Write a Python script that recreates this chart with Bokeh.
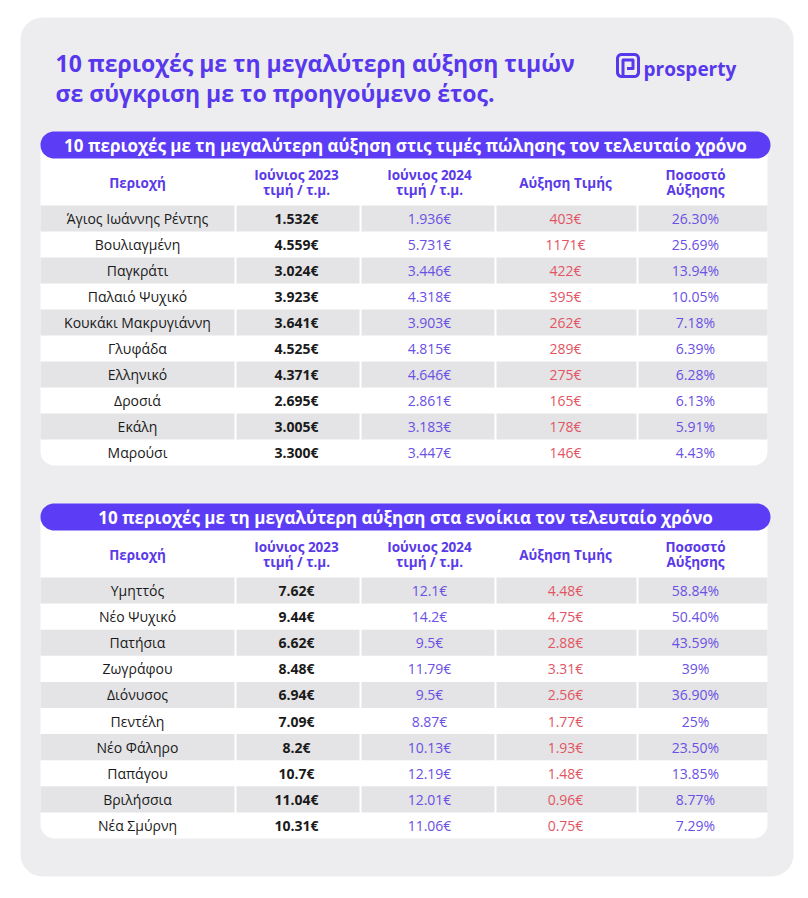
import numpy as np
from bokeh.plotting import figure
from bokeh.models import Range1d, ColumnDataSource
from bokeh.core.properties import value
from bokeh.embed import file_html
from bokeh.resources import INLINE

FONT = "Open Sans"

# ---------------- data ----------------
title_lines = ["10 περιοχές με τη μεγαλύτερη αύξηση τιμών",
               "σε σύγκριση με το προηγούμενο έτος."]
brand = "prosperty"

header_sales = "10 περιοχές με τη μεγαλύτερη αύξηση στις τιμές πώλησης τον τελευταίο χρόνο"
header_rent = "10 περιοχές με τη μεγαλύτερη αύξηση στα ενοίκια τον τελευταίο χρόνο"

col_headers = [["Περιοχή"], ["Ιούνιος 2023", "τιμή / τ.μ."], ["Ιούνιος 2024", "τιμή / τ.μ."],
               ["Αύξηση Τιμής"], ["Ποσοστό", "Αύξησης"]]

sales_areas = ["Άγιος Ιωάννης Ρέντης", "Βουλιαγμένη", "Παγκράτι", "Παλαιό Ψυχικό",
               "Κουκάκι Μακρυγιάννη", "Γλυφάδα", "Ελληνικό", "Δροσιά", "Εκάλη", "Μαρούσι"]
sales_2023 = ["1.532€", "4.559€", "3.024€", "3.923€", "3.641€", "4.525€", "4.371€", "2.695€", "3.005€", "3.300€"]
sales_2024 = ["1.936€", "5.731€", "3.446€", "4.318€", "3.903€", "4.815€", "4.646€", "2.861€", "3.183€", "3.447€"]
sales_inc = ["403€", "1171€", "422€", "395€", "262€", "289€", "275€", "165€", "178€", "146€"]
sales_pct = ["26.30%", "25.69%", "13.94%", "10.05%", "7.18%", "6.39%", "6.28%", "6.13%", "5.91%", "4.43%"]

rent_areas = ["Υμηττός", "Νέο Ψυχικό", "Πατήσια", "Ζωγράφου", "Διόνυσος", "Πεντέλη",
              "Νέο Φάληρο", "Παπάγου", "Βριλήσσια", "Νέα Σμύρνη"]
rent_2023 = ["7.62€", "9.44€", "6.62€", "8.48€", "6.94€", "7.09€", "8.2€", "10.7€", "11.04€", "10.31€"]
rent_2024 = ["12.1€", "14.2€", "9.5€", "11.79€", "9.5€", "8.87€", "10.13€", "12.19€", "12.01€", "11.06€"]
rent_inc = ["4.48€", "4.75€", "2.88€", "3.31€", "2.56€", "1.77€", "1.93€", "1.48€", "0.96€", "0.75€"]
rent_pct = ["58.84%", "50.40%", "43.59%", "39%", "36.90%", "25%", "23.50%", "13.85%", "8.77%", "7.29%"]

# ---------------- style ----------------
PURPLE = "#5838EC"
PILL = "#5C3CF5"
HEAD = "#5A3AE8"
VAL_PURPLE = "#6A50E4"
RED = "#E25563"
BLACK = "#1A1A1A"
ROW_GRAY = "#E4E4E6"
CARD = "#EDEDF0"

col_bounds = [40, 235, 360, 495, 637, 767]
col_text_x = [137, 296, 429, 565, 695]
col_colors = [BLACK, BLACK, VAL_PURPLE, RED, VAL_PURPLE]
col_styles = ["normal", "bold", "normal", "normal", "normal"]

p = figure(width=800, height=890, x_range=Range1d(0, 800), y_range=Range1d(890, 0),
           output_backend="svg", toolbar_location=None, min_border=0)
p.axis.visible = False
p.grid.visible = False
p.outline_line_color = None
p.background_fill_color = "white"
p.border_fill_color = "white"


def rrect(x0, y0, x1, y1, r_tl, r_tr, r_br, r_bl, n=14):
    xs, ys = [], []

    def arc(cx, cy, r, a0, a1):
        for t in np.linspace(a0, a1, n):
            xs.append(cx + r * np.cos(t))
            ys.append(cy + r * np.sin(t))
    arc(x0 + r_tl, y0 + r_tl, r_tl, np.pi, 1.5 * np.pi)
    arc(x1 - r_tr, y0 + r_tr, r_tr, 1.5 * np.pi, 2 * np.pi)
    arc(x1 - r_br, y1 - r_br, r_br, 0, 0.5 * np.pi)
    arc(x0 + r_bl, y1 - r_bl, r_bl, 0.5 * np.pi, np.pi)
    return xs, ys


# card
xs, ys = rrect(20, 17, 793, 876, 22, 22, 22, 22)
p.patch(xs, ys, fill_color=CARD, line_color=None)

# title
for k, line in enumerate(title_lines):
    p.text(x=[55], y=[62 + 30 * k], text=[line], text_font=value(FONT), text_font_size="23px",
           text_font_style="bold", text_color=PURPLE, text_align="left", text_baseline="middle")

# logo
xs, ys = rrect(617, 54, 638, 76, 4, 4, 4, 4)
p.patch(xs, ys, fill_color=None, line_color=PURPLE, line_width=3)
p.line(x=[622.5, 622.5, 632.5, 632.5, 626.5], y=[76, 59.5, 59.5, 68, 68], line_color=PURPLE,
       line_width=3, line_join="round")
p.text(x=[643], y=[68], text=[brand], text_font=value(FONT), text_font_size="19px",
       text_font_style="bold", text_color=PURPLE, text_align="left", text_baseline="alphabetic")


def draw_table(top, header, cols, row_h):
    pill_top, pill_bot = top, top + 27
    head_top = pill_bot
    row_top = head_top + 47
    n = len(cols[0])
    bottom = row_top + n * row_h
    # white table body
    xs, ys = rrect(col_bounds[0], pill_top + 14, col_bounds[-1], bottom, 0, 0, 14, 14)
    p.patch(xs, ys, fill_color="white", line_color=None)
    # pill
    xs, ys = rrect(40, pill_top, 770, pill_bot, 13.5, 13.5, 13.5, 13.5)
    p.patch(xs, ys, fill_color=PILL, line_color=None)
    p.text(x=[405], y=[(pill_top + pill_bot) / 2 + 0.5], text=[header], text_font=value(FONT),
           text_font_size="17px", text_font_style="bold", text_color="white",
           text_align="center", text_baseline="middle")
    # column headers
    hc = head_top + 24
    for j, lines in enumerate(col_headers):
        if len(lines) == 1:
            ypos = [hc]
        else:
            ypos = [hc - 7.5, hc + 7.5]
        p.text(x=[col_text_x[j]] * len(lines), y=ypos, text=lines, text_font=value(FONT),
               text_font_size="13.5px", text_font_style="bold", text_color=HEAD,
               text_align="center", text_baseline="middle")
    # gray row bands
    L, R, T, B = [], [], [], []
    for i in range(n):
        if i % 2 == 0:
            for j in range(5):
                L.append(col_bounds[j] + (1 if j > 0 else 0))
                R.append(col_bounds[j + 1] - (1 if j < 4 else 0))
                T.append(row_top + i * row_h)
                B.append(row_top + (i + 1) * row_h)
    p.quad(left=L, right=R, top=T, bottom=B, fill_color=ROW_GRAY, line_color=None)
    # values
    ys_rows = [row_top + (i + 0.5) * row_h for i in range(n)]
    for j, vals in enumerate(cols):
        src = ColumnDataSource(dict(x=[col_text_x[j]] * n, y=ys_rows, t=vals))
        p.text(x="x", y="y", text="t", source=src, text_font=value(FONT), text_font_size="14px",
               text_font_style=col_styles[j], text_color=col_colors[j],
               text_align="center", text_baseline="middle")


draw_table(131, header_sales, [sales_areas, sales_2023, sales_2024, sales_inc, sales_pct], 26)
draw_table(503, header_rent, [rent_areas, rent_2023, rent_2024, rent_inc, rent_pct], 26.1)

open("out.html", "w").write(file_html(p, INLINE))
